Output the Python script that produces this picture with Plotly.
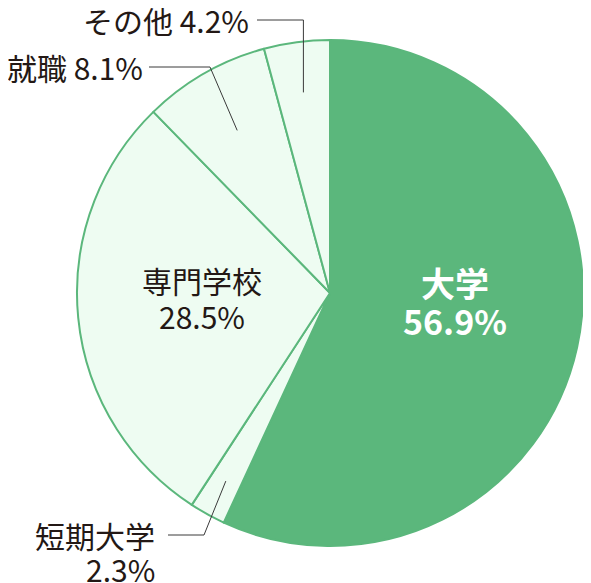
import math
import plotly.graph_objects as go

# Data
labels = ["大学", "短期大学", "専門学校", "就職", "その他"]
values = [56.9, 2.3, 28.5, 8.1, 4.2]
colors = ["#5bb77c", "#eefcf2", "#eefcf2", "#eefcf2", "#eefcf2"]

W, H = 591, 583
OFF = 8  # body margin of the page
FW, FH = W - 2 * OFF, H - OFF
cx, cy, R = 330, 293, 253
FONT = "Noto Sans CJK JP"
DARK = "#231815"

fig = go.Figure()

fig.add_trace(go.Pie(
    labels=labels, values=values, sort=False, direction="clockwise", rotation=0,
    marker=dict(colors=colors, line=dict(color="#5bb77c", width=2)),
    textinfo="none", hoverinfo="label+value", showlegend=False,
    domain=dict(x=[(cx - R - OFF) / FW, min(1, (cx + R - OFF) / FW)],
                y=[1 - (cy + R - OFF) / FH, 1 - (cy - R - OFF) / FH]),
))


# point inside a slice on its mid-angle (degrees clockwise from 12 o'clock)
def slice_point(i, frac):
    start = sum(values[:i])
    mid = (start + values[i] / 2) / sum(values) * 360
    a = math.radians(mid)
    return cx + R * frac * math.sin(a), cy - R * frac * math.cos(a)


def pct(i):
    return f"{values[i]:.1f}%"


shapes = []
annotations = []

# その他
px, py = slice_point(4, 0.80)
shapes.append(dict(type="path", path=f"M 257 20 L {px:.1f} 20 L {px:.1f} {py:.1f}"))
annotations.append(dict(x=251, y=20, text=f"{labels[4]} {pct(4)}", xanchor="right"))

# 就職
px, py = slice_point(3, 0.74)
shapes.append(dict(type="path", path=f"M 149 67 L 210 67 L {px:.1f} {py:.1f}"))
annotations.append(dict(x=145, y=67, text=f"{labels[3]} {pct(3)}", xanchor="right"))

# 短期大学
px, py = slice_point(1, 0.85)
shapes.append(dict(type="path", path=f"M 168 535 L 204 535 L {px:.1f} {py:.1f}"))
annotations.append(dict(x=157, y=535, text=labels[1], xanchor="right"))
annotations.append(dict(x=157, y=569, text=pct(1), xanchor="right"))

# 専門学校 (inside)
annotations.append(dict(x=202, y=280, text=labels[2]))
annotations.append(dict(x=202, y=316, text=pct(2)))

for s in shapes:
    s.update(xref="x", yref="y", line=dict(color="#3a3a3a", width=1))
for a in annotations:
    a.update(xref="x", yref="y", showarrow=False, yanchor="middle",
             font=dict(family=FONT, size=30, color=DARK))

# 大学 (inside, white bold)
annotations.append(dict(x=455, y=282, xref="x", yref="y", showarrow=False,
                        text=f"<b>{labels[0]}</b>",
                        font=dict(family=FONT, size=34, color="white")))
annotations.append(dict(x=455, y=320, xref="x", yref="y", showarrow=False,
                        text=f"<b>{pct(0)}</b>",
                        font=dict(family=FONT, size=34, color="white")))

fig.update_layout(
    width=FW, height=FH, margin=dict(l=0, r=0, t=0, b=0),
    paper_bgcolor="white", plot_bgcolor="rgba(0,0,0,0)",
    xaxis=dict(range=[OFF, OFF + FW], visible=False, fixedrange=True),
    yaxis=dict(range=[OFF + FH, OFF], visible=False, fixedrange=True),
    shapes=shapes, annotations=annotations,
)

fig.write_html("out.html")
